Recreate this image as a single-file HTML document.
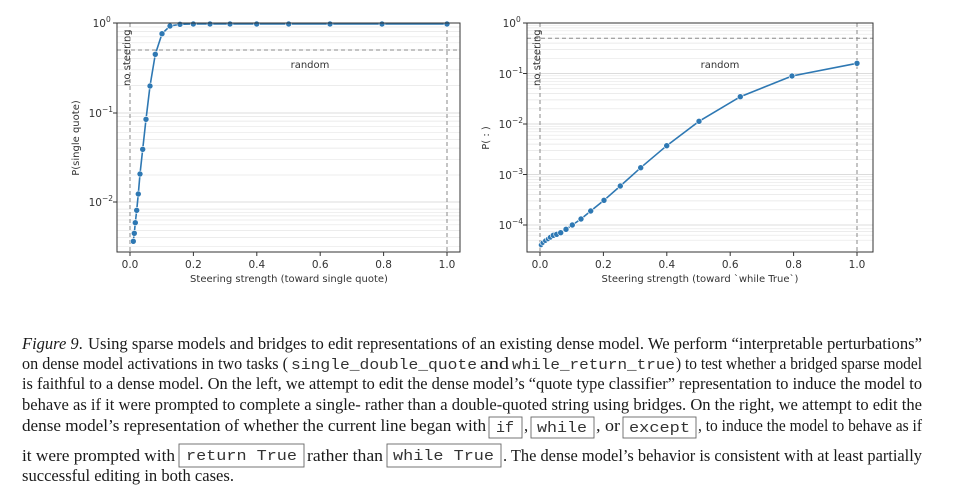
<!DOCTYPE html>
<html><head><meta charset="utf-8"><style>
html,body{margin:0;padding:0;background:#fff;}
svg{display:block;}
.t{font-family:"DejaVu Sans",sans-serif;fill:#333;}
.s{font-family:"Liberation Serif",serif;font-size:16.5px;fill:#1a1a1a;}
.m{font-family:"Liberation Mono",monospace;font-size:15px;fill:#333;}
</style></head><body>
<svg width="960" height="504" viewBox="0 0 960 504" xmlns="http://www.w3.org/2000/svg">
<!-- LEFT PLOT -->
<g>
<g stroke="#e6e6e6" stroke-width="0.7">
<line x1="117" x2="460" y1="246.3" y2="246.3"/><line x1="117" x2="460" y1="237.4" y2="237.4"/><line x1="117" x2="460" y1="230.5" y2="230.5"/><line x1="117" x2="460" y1="224.8" y2="224.8"/><line x1="117" x2="460" y1="220.0" y2="220.0"/><line x1="117" x2="460" y1="215.9" y2="215.9"/><line x1="117" x2="460" y1="212.3" y2="212.3"/><line x1="117" x2="460" y1="209.1" y2="209.1"/>
<line x1="117" x2="460" y1="175.0" y2="175.0"/><line x1="117" x2="460" y1="159.3" y2="159.3"/><line x1="117" x2="460" y1="148.1" y2="148.1"/><line x1="117" x2="460" y1="139.4" y2="139.4"/><line x1="117" x2="460" y1="132.3" y2="132.3"/><line x1="117" x2="460" y1="126.3" y2="126.3"/><line x1="117" x2="460" y1="121.1" y2="121.1"/><line x1="117" x2="460" y1="116.5" y2="116.5"/>
<line x1="117" x2="460" y1="85.5" y2="85.5"/><line x1="117" x2="460" y1="69.8" y2="69.8"/><line x1="117" x2="460" y1="58.6" y2="58.6"/><line x1="117" x2="460" y1="49.9" y2="49.9"/><line x1="117" x2="460" y1="42.8" y2="42.8"/><line x1="117" x2="460" y1="36.8" y2="36.8"/><line x1="117" x2="460" y1="31.6" y2="31.6"/><line x1="117" x2="460" y1="27.0" y2="27.0"/>
</g>
<g stroke="#d0d0d0" stroke-width="0.8"><line x1="117" x2="460" y1="202" y2="202"/><line x1="117" x2="460" y1="113" y2="113"/></g>
<g stroke="#888" stroke-width="1" stroke-dasharray="4,3">
<line x1="130" x2="130" y1="23" y2="252"/><line x1="447" x2="447" y1="23" y2="252"/><line x1="117" x2="460" y1="50" y2="50"/>
</g>
<polyline fill="none" stroke="#2e78b3" stroke-width="1.6" points="133.3,241.3 134.3,233.3 135.3,222.7 136.7,210.3 138.3,194 140,174 142.7,149.3 146,119.3 150,86 155.3,54.3 162,33.7 170,26 180,24.3 193.3,24 210,24 230,24 256.7,24 288.7,24 330,24 382,24 447,24"/>
<g fill="#2e78b3" stroke="#fff" stroke-width="0.6">
<circle cx="133.3" cy="241.3" r="3"/><circle cx="134.3" cy="233.3" r="3"/><circle cx="135.3" cy="222.7" r="3"/><circle cx="136.7" cy="210.3" r="3"/><circle cx="138.3" cy="194" r="3"/><circle cx="140" cy="174" r="3"/><circle cx="142.7" cy="149.3" r="3"/><circle cx="146" cy="119.3" r="3"/><circle cx="150" cy="86" r="3"/><circle cx="155.3" cy="54.3" r="3"/><circle cx="162" cy="33.7" r="3"/><circle cx="170" cy="26" r="3"/><circle cx="180" cy="24.3" r="3"/><circle cx="193.3" cy="24" r="3"/><circle cx="210" cy="24" r="3"/><circle cx="230" cy="24" r="3"/><circle cx="256.7" cy="24" r="3"/><circle cx="288.7" cy="24" r="3"/><circle cx="330" cy="24" r="3"/><circle cx="382" cy="24" r="3"/><circle cx="447" cy="24" r="3"/>
</g>
<rect x="117" y="23" width="343" height="229" fill="none" stroke="#333" stroke-width="1"/>
<g stroke="#333" stroke-width="1">
<line x1="130" x2="130" y1="252" y2="256"/><line x1="193.4" x2="193.4" y1="252" y2="256"/><line x1="256.8" x2="256.8" y1="252" y2="256"/><line x1="320.2" x2="320.2" y1="252" y2="256"/><line x1="383.6" x2="383.6" y1="252" y2="256"/><line x1="447" x2="447" y1="252" y2="256"/>
<line x1="113" x2="117" y1="23" y2="23"/><line x1="113" x2="117" y1="113" y2="113"/><line x1="113" x2="117" y1="202" y2="202"/>
</g>
<g class="t" font-size="10.5" text-anchor="middle">
<text x="130" y="268">0.0</text><text x="193.4" y="268">0.2</text><text x="256.8" y="268">0.4</text><text x="320.2" y="268">0.6</text><text x="383.6" y="268">0.8</text><text x="447" y="268">1.0</text>
</g>
<g class="t" font-size="10.5" text-anchor="end">
<text x="106" y="27">10</text><text x="102" y="117">10</text><text x="102" y="206">10</text>
</g>
<g class="t" font-size="7.5">
<text x="106" y="22">0</text><text x="102" y="112">−1</text><text x="102" y="201">−2</text>
</g>
<text class="t" font-size="10" x="289" y="282" text-anchor="middle">Steering strength (toward single quote)</text>
<text class="t" font-size="10" transform="translate(79,138) rotate(-90)" text-anchor="middle">P(single quote)</text>
<text class="t" font-size="10" transform="translate(130,86) rotate(-90)">no steering</text>
<text class="t" font-size="10" x="310" y="68" text-anchor="middle">random</text>
</g>

<!-- RIGHT PLOT -->
<g>
<g stroke="#e6e6e6" stroke-width="0.7">
<line x1="527" x2="873" y1="240.2" y2="240.2"/><line x1="527" x2="873" y1="235.2" y2="235.2"/><line x1="527" x2="873" y1="231.6" y2="231.6"/><line x1="527" x2="873" y1="228.8" y2="228.8"/>
<line x1="527" x2="873" y1="209.8" y2="209.8"/><line x1="527" x2="873" y1="200.9" y2="200.9"/><line x1="527" x2="873" y1="194.6" y2="194.6"/><line x1="527" x2="873" y1="189.7" y2="189.7"/><line x1="527" x2="873" y1="185.7" y2="185.7"/><line x1="527" x2="873" y1="182.3" y2="182.3"/><line x1="527" x2="873" y1="179.4" y2="179.4"/><line x1="527" x2="873" y1="176.8" y2="176.8"/>
<line x1="527" x2="873" y1="159.3" y2="159.3"/><line x1="527" x2="873" y1="150.4" y2="150.4"/><line x1="527" x2="873" y1="144.1" y2="144.1"/><line x1="527" x2="873" y1="139.2" y2="139.2"/><line x1="527" x2="873" y1="135.2" y2="135.2"/><line x1="527" x2="873" y1="131.8" y2="131.8"/><line x1="527" x2="873" y1="128.9" y2="128.9"/><line x1="527" x2="873" y1="126.3" y2="126.3"/>
<line x1="527" x2="873" y1="108.8" y2="108.8"/><line x1="527" x2="873" y1="99.9" y2="99.9"/><line x1="527" x2="873" y1="93.6" y2="93.6"/><line x1="527" x2="873" y1="88.7" y2="88.7"/><line x1="527" x2="873" y1="84.7" y2="84.7"/><line x1="527" x2="873" y1="81.3" y2="81.3"/><line x1="527" x2="873" y1="78.4" y2="78.4"/><line x1="527" x2="873" y1="75.8" y2="75.8"/>
<line x1="527" x2="873" y1="58.3" y2="58.3"/><line x1="527" x2="873" y1="49.4" y2="49.4"/><line x1="527" x2="873" y1="43.1" y2="43.1"/><line x1="527" x2="873" y1="38.2" y2="38.2"/><line x1="527" x2="873" y1="34.2" y2="34.2"/><line x1="527" x2="873" y1="30.8" y2="30.8"/><line x1="527" x2="873" y1="27.9" y2="27.9"/><line x1="527" x2="873" y1="25.3" y2="25.3"/>
</g>
<g stroke="#d0d0d0" stroke-width="0.8"><line x1="527" x2="873" y1="225" y2="225"/><line x1="527" x2="873" y1="174.5" y2="174.5"/><line x1="527" x2="873" y1="124" y2="124"/><line x1="527" x2="873" y1="73.5" y2="73.5"/></g>
<g stroke="#888" stroke-width="1" stroke-dasharray="4,3">
<line x1="540" x2="540" y1="23" y2="252"/><line x1="857" x2="857" y1="23" y2="252"/><line x1="527" x2="873" y1="38.2" y2="38.2"/>
</g>
<polyline fill="none" stroke="#2e78b3" stroke-width="1.6" points="541,245 542.7,242.7 545.3,240.7 548,239 550.3,237.3 553.3,235.3 556.7,234.3 560.7,232.7 566,229.3 572.3,225 581,219 590.7,211 604,200.3 620.3,186 640.7,167.7 666.7,145.7 699,121.3 740.3,96.7 792,76 857,63.3"/>
<g fill="#2e78b3" stroke="#fff" stroke-width="0.6">
<circle cx="541" cy="245" r="2.6"/><circle cx="542.7" cy="242.7" r="2.6"/><circle cx="545.3" cy="240.7" r="2.6"/><circle cx="548" cy="239" r="2.6"/><circle cx="550.3" cy="237.3" r="2.8"/><circle cx="553.3" cy="235.3" r="3"/><circle cx="556.7" cy="234.3" r="3"/><circle cx="560.7" cy="232.7" r="3"/><circle cx="566" cy="229.3" r="3"/><circle cx="572.3" cy="225" r="3"/><circle cx="581" cy="219" r="3"/><circle cx="590.7" cy="211" r="3"/><circle cx="604" cy="200.3" r="3"/><circle cx="620.3" cy="186" r="3"/><circle cx="640.7" cy="167.7" r="3"/><circle cx="666.7" cy="145.7" r="3"/><circle cx="699" cy="121.3" r="3"/><circle cx="740.3" cy="96.7" r="3"/><circle cx="792" cy="76" r="3"/><circle cx="857" cy="63.3" r="3"/>
</g>
<rect x="527" y="23" width="346" height="229" fill="none" stroke="#333" stroke-width="1"/>
<g stroke="#333" stroke-width="1">
<line x1="540" x2="540" y1="252" y2="256"/><line x1="603.4" x2="603.4" y1="252" y2="256"/><line x1="666.8" x2="666.8" y1="252" y2="256"/><line x1="730.2" x2="730.2" y1="252" y2="256"/><line x1="793.6" x2="793.6" y1="252" y2="256"/><line x1="857" x2="857" y1="252" y2="256"/>
<line x1="523" x2="527" y1="23" y2="23"/><line x1="523" x2="527" y1="73.5" y2="73.5"/><line x1="523" x2="527" y1="124" y2="124"/><line x1="523" x2="527" y1="174.5" y2="174.5"/><line x1="523" x2="527" y1="225" y2="225"/>
</g>
<g class="t" font-size="10.5" text-anchor="middle">
<text x="540" y="268">0.0</text><text x="603.4" y="268">0.2</text><text x="666.8" y="268">0.4</text><text x="730.2" y="268">0.6</text><text x="793.6" y="268">0.8</text><text x="857" y="268">1.0</text>
</g>
<g class="t" font-size="10.5" text-anchor="end">
<text x="516" y="27">10</text><text x="512" y="78">10</text><text x="512" y="128">10</text><text x="512" y="179">10</text><text x="512" y="229">10</text>
</g>
<g class="t" font-size="7.5">
<text x="516" y="22">0</text><text x="512" y="73">−1</text><text x="512" y="123">−2</text><text x="512" y="174">−3</text><text x="512" y="224">−4</text>
</g>
<text class="t" font-size="10" x="700" y="282" text-anchor="middle">Steering strength (toward `while True`)</text>
<text class="t" font-size="10" transform="translate(489,138) rotate(-90)" text-anchor="middle">P( : )</text>
<text class="t" font-size="10" transform="translate(540,86) rotate(-90)">no steering</text>
<text class="t" font-size="10" x="720" y="68" text-anchor="middle">random</text>
</g>

<!-- CAPTION -->
<g>
<text class="s" x="22" y="349"><tspan font-style="italic">Figure 9</tspan>.</text>
<text class="s" x="88" y="349" textLength="834" lengthAdjust="spacingAndGlyphs">Using sparse models and bridges to edit representations of an existing dense model. We perform “interpretable perturbations”</text>

<text class="s" x="22" y="369" textLength="266" lengthAdjust="spacingAndGlyphs">on dense model activations in two tasks (</text>
<text class="m" x="291" y="369" textLength="186" lengthAdjust="spacingAndGlyphs">single_double_quote</text>
<text class="s" x="480" y="369" textLength="29" lengthAdjust="spacingAndGlyphs">and</text>
<text class="m" x="512" y="369" textLength="163" lengthAdjust="spacingAndGlyphs">while_return_true</text>
<text class="s" x="676" y="369" textLength="246" lengthAdjust="spacingAndGlyphs">) to test whether a bridged sparse model</text>

<text class="s" x="22" y="389" textLength="900" lengthAdjust="spacingAndGlyphs">is faithful to a dense model. On the left, we attempt to edit the dense model’s “quote type classifier” representation to induce the model to</text>
<text class="s" x="22" y="410" textLength="900" lengthAdjust="spacingAndGlyphs">behave as if it were prompted to complete a single- rather than a double-quoted string using bridges. On the right, we attempt to edit the</text>

<text class="s" x="22" y="431" textLength="464" lengthAdjust="spacingAndGlyphs">dense model’s representation of whether the current line began with</text>
<rect x="489" y="417" width="33" height="21" fill="none" stroke="#666" stroke-width="0.9"/>
<text class="m" x="496" y="432">if</text>
<text class="s" x="524" y="431">,</text>
<rect x="531" y="417" width="63" height="21" fill="none" stroke="#666" stroke-width="0.9"/>
<text class="m" x="537" y="432" textLength="50" lengthAdjust="spacingAndGlyphs">while</text>
<text class="s" x="596" y="431" textLength="24" lengthAdjust="spacingAndGlyphs">, or</text>
<rect x="623" y="417" width="73" height="21" fill="none" stroke="#666" stroke-width="0.9"/>
<text class="m" x="629" y="432" textLength="61" lengthAdjust="spacingAndGlyphs">except</text>
<text class="s" x="698" y="431" textLength="224" lengthAdjust="spacingAndGlyphs">, to induce the model to behave as if</text>

<text class="s" x="22" y="461" textLength="153" lengthAdjust="spacingAndGlyphs">it were prompted with</text>
<rect x="179" y="444" width="125" height="23" fill="none" stroke="#666" stroke-width="0.9"/>
<text class="m" x="186" y="460" textLength="111" lengthAdjust="spacingAndGlyphs">return True</text>
<text class="s" x="307" y="461" textLength="76" lengthAdjust="spacingAndGlyphs">rather than</text>
<rect x="387" y="444" width="114" height="23" fill="none" stroke="#666" stroke-width="0.9"/>
<text class="m" x="393" y="460" textLength="101" lengthAdjust="spacingAndGlyphs">while True</text>
<text class="s" x="503" y="461" textLength="419" lengthAdjust="spacingAndGlyphs">. The dense model’s behavior is consistent with at least partially</text>

<text class="s" x="22" y="481" textLength="212" lengthAdjust="spacingAndGlyphs">successful editing in both cases.</text>
</g>
</svg>
</body></html>
